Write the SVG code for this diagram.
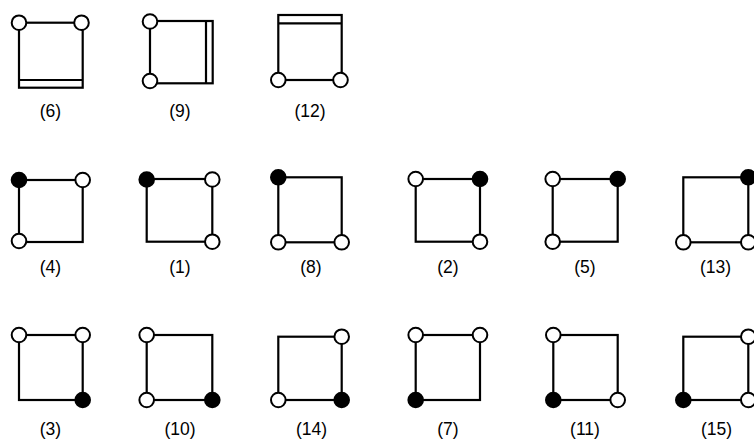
<svg xmlns="http://www.w3.org/2000/svg" width="754" height="439" viewBox="0 0 754 439">
<style>
.sq{fill:none;stroke:#000;stroke-width:2.2}
.ln{fill:none;stroke:#000;stroke-width:2.2}
.o{fill:#fff;stroke:#000;stroke-width:2}
.f{fill:#000;stroke:#000;stroke-width:2}
.lbl{font-family:"Liberation Sans",Arial,sans-serif;font-size:17.5px;text-anchor:middle;fill:#000}
</style>
<rect width="754" height="439" fill="#fff"/>
<g id="connectors"/>
<!-- Row 1 -->
<g id="n6">
<rect class="sq" x="19" y="22.7" width="63.7" height="65"/>
<line class="ln" x1="19" y1="80" x2="82.7" y2="80"/>
<circle class="o" cx="19" cy="22.7" r="7.3"/>
<circle class="o" cx="81.5" cy="22.7" r="7.3"/>
<text class="lbl" x="50.5" y="117">(6)</text>
</g>
<g id="n9">
<rect class="sq" x="150" y="21" width="62.7" height="62.3"/>
<line class="ln" x1="206" y1="21" x2="206" y2="83.3"/>
<circle class="o" cx="150" cy="21.5" r="7.3"/>
<circle class="o" cx="150" cy="81" r="7.3"/>
<text class="lbl" x="180" y="117">(9)</text>
</g>
<g id="n12">
<rect class="sq" x="278.3" y="15" width="63.4" height="65"/>
<line class="ln" x1="278.3" y1="23.3" x2="341.7" y2="23.3"/>
<circle class="o" cx="278.3" cy="80" r="7.3"/>
<circle class="o" cx="340.5" cy="80" r="7.3"/>
<text class="lbl" x="310" y="117">(12)</text>
</g>
<!-- Row 2 -->
<g id="n4">
<rect class="sq" x="19" y="180" width="63.7" height="62"/>
<circle class="f" cx="19" cy="180" r="7.3"/>
<circle class="o" cx="82.7" cy="180" r="7.3"/>
<circle class="o" cx="19" cy="241" r="7.3"/>
<text class="lbl" x="50.5" y="273">(4)</text>
</g>
<g id="n1">
<rect class="sq" x="146.7" y="179" width="65.6" height="62.7"/>
<circle class="f" cx="146.7" cy="179.5" r="7.3"/>
<circle class="o" cx="212.3" cy="179.5" r="7.3"/>
<circle class="o" cx="212.3" cy="241.7" r="7.3"/>
<text class="lbl" x="180" y="273">(1)</text>
</g>
<g id="n8">
<rect class="sq" x="278.3" y="177.3" width="63.4" height="65"/>
<circle class="f" cx="278.3" cy="177.3" r="7.3"/>
<circle class="o" cx="278.3" cy="242.3" r="7.3"/>
<circle class="o" cx="341.7" cy="242.3" r="7.3"/>
<text class="lbl" x="311" y="273">(8)</text>
</g>
<g id="n2">
<rect class="sq" x="415.7" y="179" width="64.3" height="62.7"/>
<circle class="o" cx="415.7" cy="179" r="7.3"/>
<circle class="f" cx="480" cy="179" r="7.3"/>
<circle class="o" cx="480" cy="241.7" r="7.3"/>
<text class="lbl" x="448" y="273">(2)</text>
</g>
<g id="n5">
<rect class="sq" x="552.7" y="179" width="65" height="62.7"/>
<circle class="o" cx="552.7" cy="179" r="7.3"/>
<circle class="f" cx="617.7" cy="179" r="7.3"/>
<circle class="o" cx="552.7" cy="241.7" r="7.3"/>
<text class="lbl" x="585" y="273">(5)</text>
</g>
<g id="n13">
<rect class="sq" x="683.3" y="177.3" width="65" height="65"/>
<circle class="f" cx="748.3" cy="177.3" r="7.3"/>
<circle class="o" cx="683.3" cy="242.3" r="7.3"/>
<circle class="o" cx="748.3" cy="242.3" r="7.3"/>
<text class="lbl" x="715.5" y="273">(13)</text>
</g>
<!-- Row 3 -->
<g id="n3">
<rect class="sq" x="19" y="335" width="63.7" height="65"/>
<circle class="o" cx="19" cy="335" r="7.3"/>
<circle class="o" cx="82.7" cy="335" r="7.3"/>
<circle class="f" cx="82.7" cy="400" r="7.3"/>
<text class="lbl" x="50.5" y="435">(3)</text>
</g>
<g id="n10">
<rect class="sq" x="146.7" y="335" width="65.6" height="65"/>
<circle class="o" cx="146.7" cy="335" r="7.3"/>
<circle class="o" cx="146.7" cy="400" r="7.3"/>
<circle class="f" cx="212.3" cy="400" r="7.3"/>
<text class="lbl" x="180" y="435">(10)</text>
</g>
<g id="n14">
<rect class="sq" x="278.3" y="336.7" width="63.4" height="63.3"/>
<circle class="o" cx="341.7" cy="336.7" r="7.3"/>
<circle class="o" cx="278.3" cy="400" r="7.3"/>
<circle class="f" cx="341.7" cy="400" r="7.3"/>
<text class="lbl" x="311.5" y="435">(14)</text>
</g>
<g id="n7">
<rect class="sq" x="415.7" y="335" width="64.3" height="65"/>
<circle class="o" cx="415.7" cy="335" r="7.3"/>
<circle class="o" cx="480" cy="335" r="7.3"/>
<circle class="f" cx="415.7" cy="400" r="7.3"/>
<text class="lbl" x="448" y="435">(7)</text>
</g>
<g id="n11">
<rect class="sq" x="553.3" y="335" width="64.4" height="65"/>
<circle class="o" cx="553.3" cy="335" r="7.3"/>
<circle class="f" cx="553.3" cy="400" r="7.3"/>
<circle class="o" cx="617.7" cy="400" r="7.3"/>
<text class="lbl" x="585" y="435">(11)</text>
</g>
<g id="n15">
<rect class="sq" x="683.3" y="336.7" width="65" height="63.3"/>
<circle class="o" cx="748.3" cy="336.7" r="7.3"/>
<circle class="f" cx="683.3" cy="400" r="7.3"/>
<circle class="o" cx="748.3" cy="400" r="7.3"/>
<text class="lbl" x="716.5" y="435">(15)</text>
</g>
</svg>
